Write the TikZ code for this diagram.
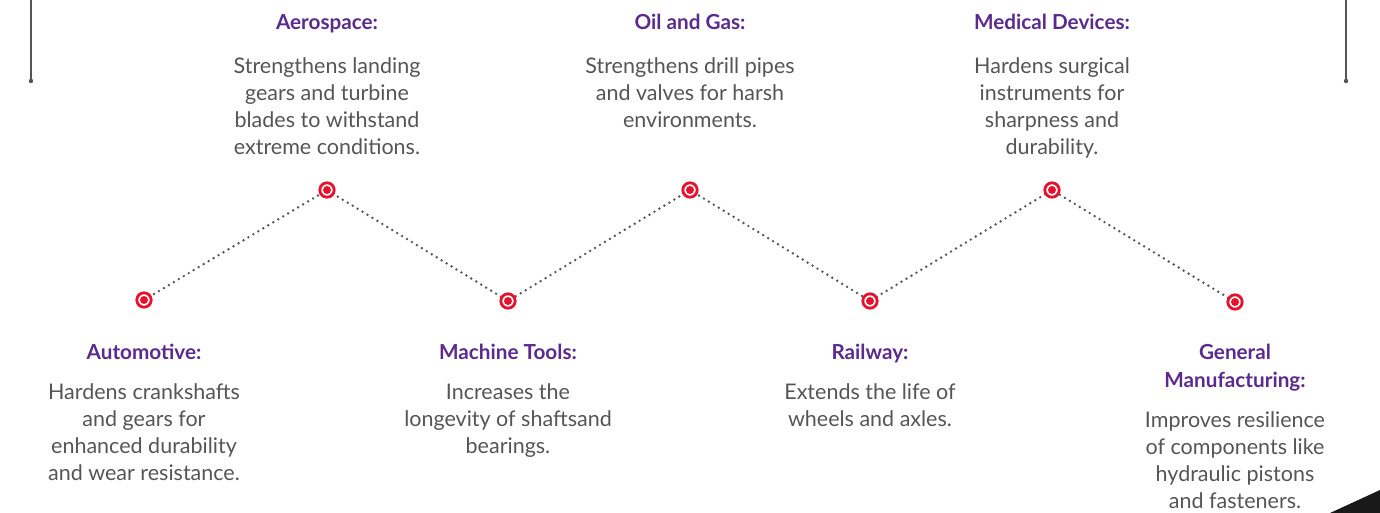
\documentclass[tikz,border=0pt]{standalone}
\usepackage{fontspec}
\setmainfont{Lato}
\definecolor{ttl}{HTML}{5B2A8E}
\definecolor{bodyc}{HTML}{555555}
\definecolor{mk}{HTML}{E8112D}
\definecolor{ln}{HTML}{555555}
\begin{document}
\begin{tikzpicture}[x=1pt,y=-1pt,
  title/.style={font=\fontsize{20.7}{28}\selectfont\bfseries, text=ttl, align=center, inner sep=0pt, anchor=base},
  desc/.style={font=\fontsize{21.5}{27}\selectfont, text=bodyc, align=center, inner sep=0pt, anchor=base},
  dotline/.style={ln, line width=2.7pt, line cap=round, dash pattern=on 0pt off 5.8pt},
  mark ring/.style={circle, draw=mk, line width=2.8pt, fill=white, minimum size=14.4pt, inner sep=0pt},
  mark dot/.style={circle, fill=mk, minimum size=8pt, inner sep=0pt},
  frame/.style={ln, line width=1.4pt}]
\useasboundingbox (0,0) rectangle (1380,513);
% corner lines
\coordinate (lt) at (31,0);
\coordinate (lb) at (31,81);
\coordinate (rt) at (1346,0);
\coordinate (rb) at (1346,81);
\draw[frame] (lt) -- (lb);
\draw[frame] (rt) -- (rb);
\fill[ln] (lb) circle (2.2pt);
\fill[ln] (rb) circle (2.2pt);
% triangle
\fill[black!90] (1330,513) -- (1380,490) -- (1380,513) -- cycle;
% markers
\coordinate (m1) at (144,300);
\coordinate (m2) at (327,190);
\coordinate (m3) at (508,301);
\coordinate (m4) at (690,190);
\coordinate (m5) at (870,301);
\coordinate (m6) at (1052,190);
\coordinate (m7) at (1235,302);
\draw[dotline] (m1) -- (m2) -- (m3) -- (m4) -- (m5) -- (m6) -- (m7);
\foreach \m in {m1,m2,m3,m4,m5,m6,m7}{
  \node[mark ring] at (\m) {};
  \node[mark dot] at (\m) {};
}
% top texts (base anchor = baseline of last line)
\node[title] (t2) at (327,30) {Aerospace:};
\node[desc] (d2) at (327,155) {Strengthens landing\\gears and turbine\\blades to withstand\\extreme conditions.};
\node[title] (t4) at (690,30) {Oil and Gas:};
\node[desc] (d4) at (690,128) {Strengthens drill pipes\\and valves for harsh\\environments.};
\node[title] (t6) at (1052,30) {Medical Devices:};
\node[desc] (d6) at (1052,155) {Hardens surgical\\instruments for\\sharpness and\\durability.};
% bottom texts
\node[title] (t1) at (144,359) {Automotive:};
\node[desc] (d1) at (144,480) {Hardens crankshafts\\and gears for\\enhanced durability\\and wear resistance.};
\node[title] (t3) at (508,359) {Machine Tools:};
\node[desc] (d3) at (508,453) {Increases the\\longevity of shaftsand\\bearings.};
\node[title] (t5) at (870,359) {Railway:};
\node[desc] (d5) at (870,426) {Extends the life of\\wheels and axles.};
\node[title] (t7) at (1235,387) {General\\Manufacturing:};
\node[desc] (d7) at (1235,508) {Improves resilience\\of components like\\hydraulic pistons\\and fasteners.};
\end{tikzpicture}
\end{document}
